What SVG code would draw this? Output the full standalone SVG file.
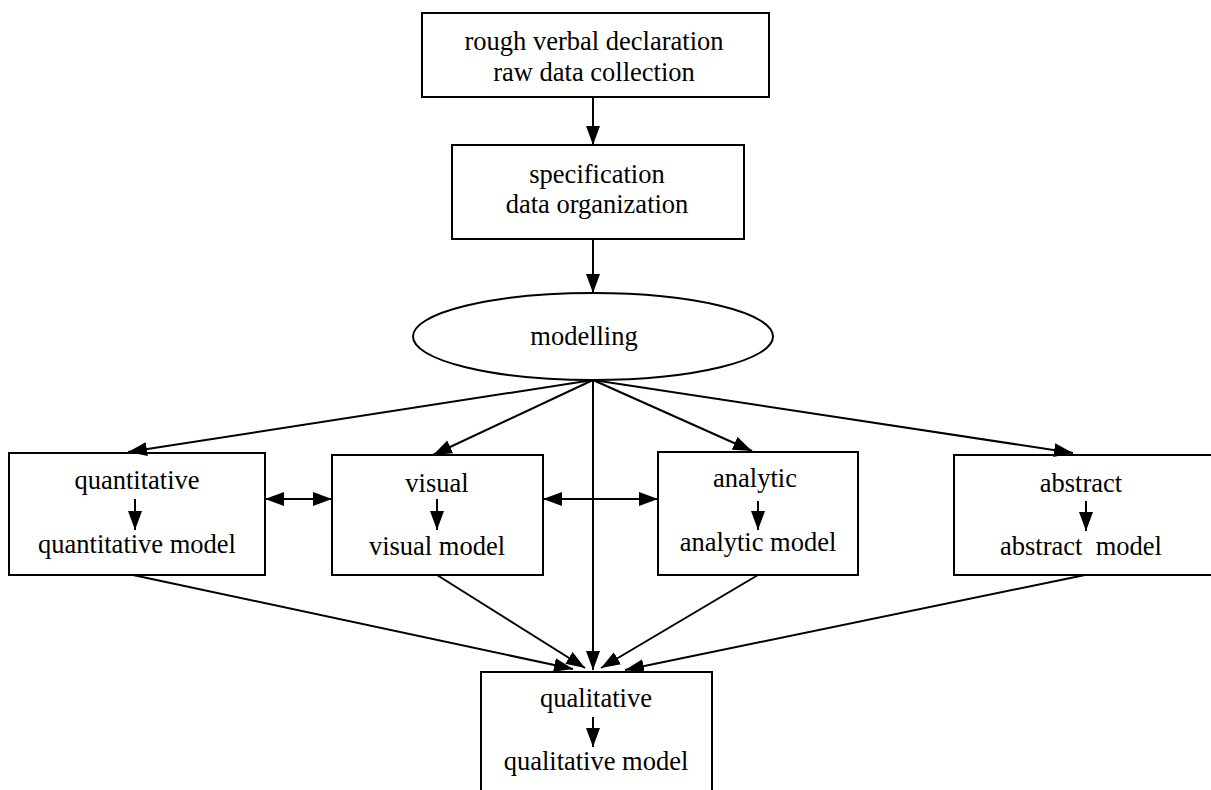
<svg xmlns="http://www.w3.org/2000/svg" width="1211" height="790" viewBox="0 0 1211 790">
<style>
  .box { fill: #fff; stroke: #000; stroke-width: 2; }
  .lbl { font-family: "Liberation Serif", "Times New Roman", serif; font-size: 26.5px; fill: #000; text-anchor: middle; }
  .edge { stroke: #000; stroke-width: 2; fill: none; marker-end: url(#ah); }
  .dbl { stroke: #000; stroke-width: 2; fill: none; marker-end: url(#ah); marker-start: url(#ahs); }
</style>
<defs>
  <marker id="ah" markerUnits="userSpaceOnUse" markerWidth="19" markerHeight="14" refX="19" refY="7" orient="auto">
    <path d="M0,0 L19,7 L0,14 z" fill="#000"/>
  </marker>
  <marker id="ahs" markerUnits="userSpaceOnUse" markerWidth="19" markerHeight="14" refX="19" refY="7" orient="auto-start-reverse">
    <path d="M0,0 L19,7 L0,14 z" fill="#000"/>
  </marker>
</defs>
<rect width="1211" height="790" fill="#fff"/>
<g id="n-rough">
  <rect class="box" x="422" y="13" width="347" height="84"/>
  <text class="lbl" x="594" y="50">rough verbal declaration</text>
  <text class="lbl" x="594" y="81">raw data collection</text>
</g>
<g id="n-spec">
  <rect class="box" x="452" y="145" width="292" height="94"/>
  <text class="lbl" x="597" y="183">specification</text>
  <text class="lbl" x="597" y="213">data organization</text>
</g>
<g id="n-modelling">
  <ellipse class="box" cx="593" cy="336.5" rx="180" ry="43.5"/>
  <text class="lbl" x="584" y="345">modelling</text>
</g>
<g id="n-quant">
  <rect class="box" x="9" y="453" width="256" height="122"/>
  <text class="lbl" x="137" y="489">quantitative</text>
  <line class="edge" x1="135" y1="499" x2="135" y2="530"/>
  <text class="lbl" x="137" y="553">quantitative model</text>
</g>
<g id="n-visual">
  <rect class="box" x="332" y="455" width="211" height="120"/>
  <text class="lbl" x="437" y="492">visual</text>
  <line class="edge" x1="437" y1="499" x2="437" y2="530"/>
  <text class="lbl" x="437" y="555">visual model</text>
</g>
<g id="n-analytic">
  <rect class="box" x="658" y="452" width="200" height="123"/>
  <text class="lbl" x="755" y="487">analytic</text>
  <line class="edge" x1="758" y1="501" x2="758" y2="530"/>
  <text class="lbl" x="758" y="551">analytic model</text>
</g>
<g id="n-abstract">
  <rect class="box" x="954" y="455" width="270" height="120"/>
  <text class="lbl" x="1081" y="492">abstract</text>
  <line class="edge" x1="1086" y1="501" x2="1086" y2="531"/>
  <text class="lbl" x="1081" y="555" xml:space="preserve">abstract  model</text>
</g>
<g id="n-qual">
  <rect class="box" x="481" y="672" width="231" height="130"/>
  <text class="lbl" x="596" y="707">qualitative</text>
  <line class="edge" x1="593" y1="717" x2="593" y2="747"/>
  <text class="lbl" x="596" y="770">qualitative model</text>
</g>
<g id="connectors">
  <line class="edge" x1="593" y1="97" x2="593" y2="145"/>
  <line class="edge" x1="593" y1="239" x2="593" y2="293"/>
  <line class="edge" x1="593" y1="380" x2="128" y2="452"/>
  <line class="edge" x1="593" y1="380" x2="433" y2="455"/>
  <line class="edge" x1="593" y1="380" x2="593" y2="670"/>
  <line class="edge" x1="593" y1="380" x2="752" y2="451"/>
  <line class="edge" x1="593" y1="380" x2="1073" y2="453"/>
  <line class="dbl" x1="265" y1="499" x2="332" y2="499"/>
  <line class="dbl" x1="543" y1="499" x2="658" y2="499"/>
  <line class="edge" x1="133" y1="575" x2="573" y2="669"/>
  <line class="edge" x1="437" y1="575" x2="585" y2="668"/>
  <line class="edge" x1="758" y1="575" x2="601" y2="668"/>
  <line class="edge" x1="1085" y1="575" x2="625" y2="670"/>
</g>
</svg>
